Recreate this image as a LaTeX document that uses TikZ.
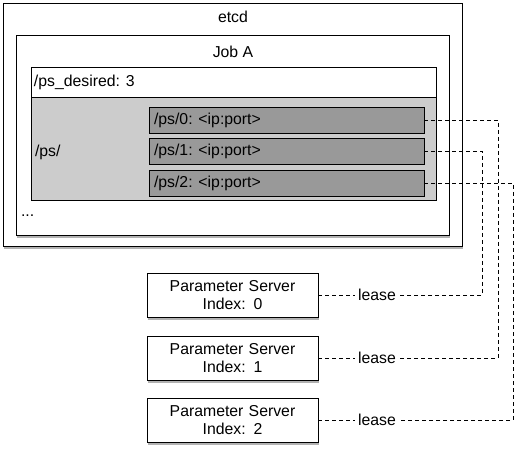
\documentclass[tikz,border=0pt]{standalone}
\usepackage{fontspec}
\setmainfont{Liberation Sans}
\usetikzlibrary{shadows,calc}
\definecolor{lightg}{RGB}{204,204,204}
\definecolor{darkg}{RGB}{153,153,153}
\begin{document}
\begin{tikzpicture}[x=1pt,y=-1pt,
  font=\fontsize{15.8}{18}\selectfont,
  box/.style={draw=black,line width=0.9pt,rectangle,inner sep=0pt,outer sep=0pt,anchor=north west},
  shad/.style={drop shadow={shadow xshift=0.5pt,shadow yshift=-3pt,opacity=0.5,fill=black!60}},
  lbl/.style={inner sep=0pt,outer sep=0pt},
  dashline/.style={draw=black,line width=0.8pt,dash pattern=on 4pt off 3pt},
  leaselbl/.style={inner sep=3.5pt,outer sep=0pt}
]
\useasboundingbox (0,0) rectangle (517,449);
% etcd outer
\node[box,shad,fill=white,minimum width=459pt,minimum height=243pt] (etcd) at (3,3) {};
\node[lbl] (etcdlbl) at (233,17) {etcd};
% Job A
\node[box,shad,fill=white,minimum width=433pt,minimum height=200pt] (joba) at (16,35) {};
\node[lbl] (jobalbl) at (233,52) {Job A};
% ps_desired
\node[box,fill=white,minimum width=405pt,minimum height=30pt] (desired) at (31,67) {};
\node[lbl,anchor=west] (desiredlbl) at (34,82) {/ps\_desired: 3};
% ps area
\node[box,fill=lightg,minimum width=405pt,minimum height=103pt] (psarea) at (31,97) {};
\node[lbl,anchor=west] (pslbl) at (35,152) {/ps/};
% key boxes
\node[box,fill=darkg,minimum width=275pt,minimum height=26pt] (k0) at (149,107) {};
\node[box,fill=darkg,minimum width=275pt,minimum height=26pt] (k1) at (149,138) {};
\node[box,fill=darkg,minimum width=275pt,minimum height=26pt] (k2) at (149,170) {};
\node[lbl,anchor=west] (k0lbl) at (154,120) {/ps/0: <ip:port>};
\node[lbl,anchor=west] (k1lbl) at (154,151) {/ps/1: <ip:port>};
\node[lbl,anchor=west] (k2lbl) at (154,183) {/ps/2: <ip:port>};
\node[lbl,anchor=west] (dots) at (21,216) {...};
% parameter servers
\node[box,shad,fill=white,minimum width=171pt,minimum height=44pt,align=center,text width=171pt] (p0) at (147,273) {Parameter Server\\Index: 0};
\node[box,shad,fill=white,minimum width=171pt,minimum height=44pt,align=center,text width=171pt] (p1) at (147,336) {Parameter Server\\Index: 1};
\node[box,shad,fill=white,minimum width=171pt,minimum height=44pt,align=center,text width=171pt] (p2) at (147,398) {Parameter Server\\Index: 2};
% lease labels
\node[leaselbl] (l0) at (p0.east -| 377,0) {lease};
\node[leaselbl] (l1) at (p1.east -| 377,0) {lease};
\node[leaselbl] (l2) at (p2.east -| 377,0) {lease};
\coordinate (r0) at (498,0);
\coordinate (r1) at (482,0);
\coordinate (r2) at (513,0);
% connectors
\draw[dashline] (p0.east) -- (l0.west);
\draw[dashline] (p1.east) -- (l1.west);
\draw[dashline] (p2.east) -- (l2.west);
\draw[dashline] (k0.east) -| (r0 |- l1.east) -- (l1.east);
\draw[dashline] (k1.east) -| (r1 |- l0.east) -- (l0.east);
\draw[dashline] (k2.east) -| (r2 |- l2.east) -- (l2.east);
\end{tikzpicture}
\end{document}
